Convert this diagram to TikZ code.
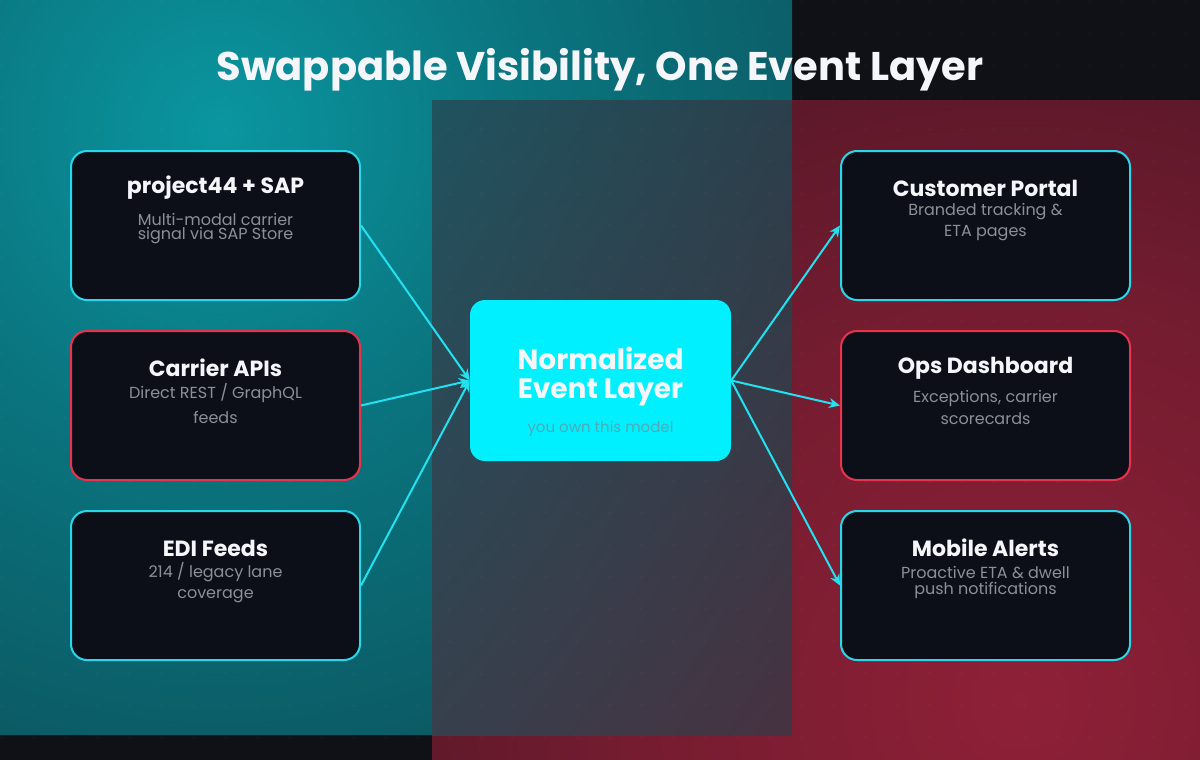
\documentclass[tikz,border=0pt]{standalone}
\usepackage{fontspec}
\setmainfont{Poppins}
\usetikzlibrary{arrows.meta}
\definecolor{basebg}{HTML}{101117}
\definecolor{tealA}{HTML}{0A96A0}
\definecolor{tealB}{HTML}{0A7680}
\definecolor{tealC}{HTML}{0B5660}
\definecolor{tealD}{HTML}{0B3A44}
\definecolor{tealE}{HTML}{0B2630}
\definecolor{redA}{HTML}{8E2037}
\definecolor{redB}{HTML}{741C30}
\definecolor{redC}{HTML}{561828}
\definecolor{redD}{HTML}{34121C}
\definecolor{redE}{HTML}{220C14}
\definecolor{cardfill}{HTML}{0C0F17}
\definecolor{cyanline}{HTML}{2AD6EA}
\definecolor{arrowcol}{HTML}{22E2F2}
\definecolor{redline}{HTML}{E6344F}
\definecolor{corefill}{HTML}{00F0FF}
\definecolor{titlecol}{HTML}{F4F6FA}
\definecolor{subcol}{HTML}{8A8F99}
\definecolor{coresub}{HTML}{4EAAB8}
\pgfdeclareradialshading{tealglow}{\pgfpointorigin}{color(0bp)=(tealA); color(8.3bp)=(tealB); color(19.4bp)=(tealC); color(33.3bp)=(tealD); color(50bp)=(tealE)}
\pgfdeclareradialshading{redglow}{\pgfpointorigin}{color(0bp)=(redA); color(11.1bp)=(redB); color(19.4bp)=(redC); color(32.2bp)=(redD); color(50bp)=(redE)}
% bilinear blend for the overlap band (v=0 bottom, v=1 top)
\pgfdeclarefunctionalshading{midband}{\pgfpoint{-50bp}{-50bp}}{\pgfpoint{50bp}{50bp}}{}{
  50 add 100 div exch 50 add 100 div exch
  1 index 0.14 mul 1 index -0.175 mul add 2 index 2 index mul -0.065 mul add 0.23 add
  3 1 roll
  1 index -0.08 mul 1 index 0.18 mul add 2 index 2 index mul -0.10 mul add 0.23 add
  3 1 roll
  1 index -0.06 mul 1 index 0.17 mul add 2 index 2 index mul -0.12 mul add 0.28 add
  3 1 roll pop pop
}
\tikzset{
  card/.style={draw, line width=2pt, fill=cardfill, rounded corners=16pt, minimum width=289pt, minimum height=149pt, inner sep=0pt},
  cyancard/.style={card, draw=cyanline},
  redcard/.style={card, draw=redline},
  core/.style={fill=corefill, rounded corners=15pt, minimum width=261pt, minimum height=161pt, inner sep=0pt},
  cardtitle/.style={font=\bfseries\fontsize{22}{26}\selectfont, text=titlecol, inner sep=0pt},
  cardsub/.style={font=\fontsize{16}{19}\selectfont, text=subcol, inner sep=0pt},
  coretitle/.style={font=\bfseries\fontsize{28}{32}\selectfont, text=titlecol, inner sep=0pt},
  flow/.style={draw=arrowcol, line width=2pt, -{Stealth[length=11pt,width=10pt]}},
}
\begin{document}
\begin{tikzpicture}[x=1pt,y=-1pt]
\useasboundingbox (0,0) rectangle (1200,760);
% background
\fill[basebg] (0,0) rectangle (1200,760);
\begin{scope}
  \clip (0,0) rectangle (432,735) (432,0) rectangle (792,100);
  \fill[tealE] (0,0) rectangle (792,735);
  \shade[shading=tealglow] (220,130) circle[radius=900pt];
\end{scope}
\begin{scope}
  \clip (792,100) rectangle (1200,760) (432,735) rectangle (792,760);
  \fill[redE] (432,100) rectangle (1200,760);
  \shade[shading=redglow] (1020,700) circle[radius=900pt];
\end{scope}
\shade[shading=midband] (432,100) rectangle (792,735);
\foreach \i in {0,...,37} {
  \foreach \j in {0,...,23} {
    \fill[white, opacity=0.06] (1.5+32*\i, 1.5+32*\j) circle[radius=1pt];
  }
}
% title
\node[font=\bfseries\fontsize{40}{48}\selectfont, text=titlecol, inner sep=0pt] (title) at (600,70) {Swappable Visibility, One Event Layer};
% cards
\node[cyancard] (p44) at (215.5,225.5) {};
\node[redcard] (carrier) at (215.5,405.5) {};
\node[cyancard] (edi) at (215.5,585.5) {};
\node[cyancard] (portal) at (985.5,225.5) {};
\node[redcard] (ops) at (985.5,405.5) {};
\node[cyancard] (mobile) at (985.5,585.5) {};
\node[core] (core) at (600.5,380.5) {};
% card texts
\node[cardtitle] (p44t) at (215.5,188) {project44 + SAP};
\node[cardsub] (p44s1) at (215.5,219) {Multi-modal carrier};
\node[cardsub] (p44s2) at (215.5,236) {signal via SAP Store};
\node[cardtitle] (carriert) at (215.5,368) {Carrier APIs};
\node[cardsub] (carriers1) at (215.5,393) {Direct REST / GraphQL};
\node[cardsub] (carriers2) at (215.5,417) {feeds};
\node[cardtitle] (edit) at (215.5,548) {EDI Feeds};
\node[cardsub] (edis1) at (215.5,572) {214 / legacy lane};
\node[cardsub] (edis2) at (215.5,596) {coverage};
\node[cardtitle] (portalt) at (985.5,188) {Customer Portal};
\node[cardsub] (portals1) at (985.5,212) {Branded tracking \&};
\node[cardsub] (portals2) at (985.5,233) {ETA pages};
\node[cardtitle] (opst) at (985.5,368) {Ops Dashboard};
\node[cardsub] (opss1) at (985.5,398) {Exceptions, carrier};
\node[cardsub] (opss2) at (985.5,419) {scorecards};
\node[cardtitle] (mobilet) at (985.5,548) {Mobile Alerts};
\node[cardsub] (mobiles1) at (985.5,573) {Proactive ETA \& dwell};
\node[cardsub] (mobiles2) at (985.5,590) {push notifications};
% core texts
\node[coretitle] (coret1) at (600.5,358) {Normalized};
\node[coretitle] (coret2) at (600.5,392) {Event Layer};
\node[font=\fontsize{15}{18}\selectfont, text=coresub, inner sep=0pt] (cores) at (600.5,429) {you own this model};
% connectors
\draw[flow] (p44.east) -- (core.west);
\draw[flow] (carrier.east) -- (core.west);
\draw[flow] (edi.east) -- (core.west);
\draw[flow] (core.east) -- (portal.west);
\draw[flow] (core.east) -- (ops.west);
\draw[flow] (core.east) -- (mobile.west);
\end{tikzpicture}
\end{document}
